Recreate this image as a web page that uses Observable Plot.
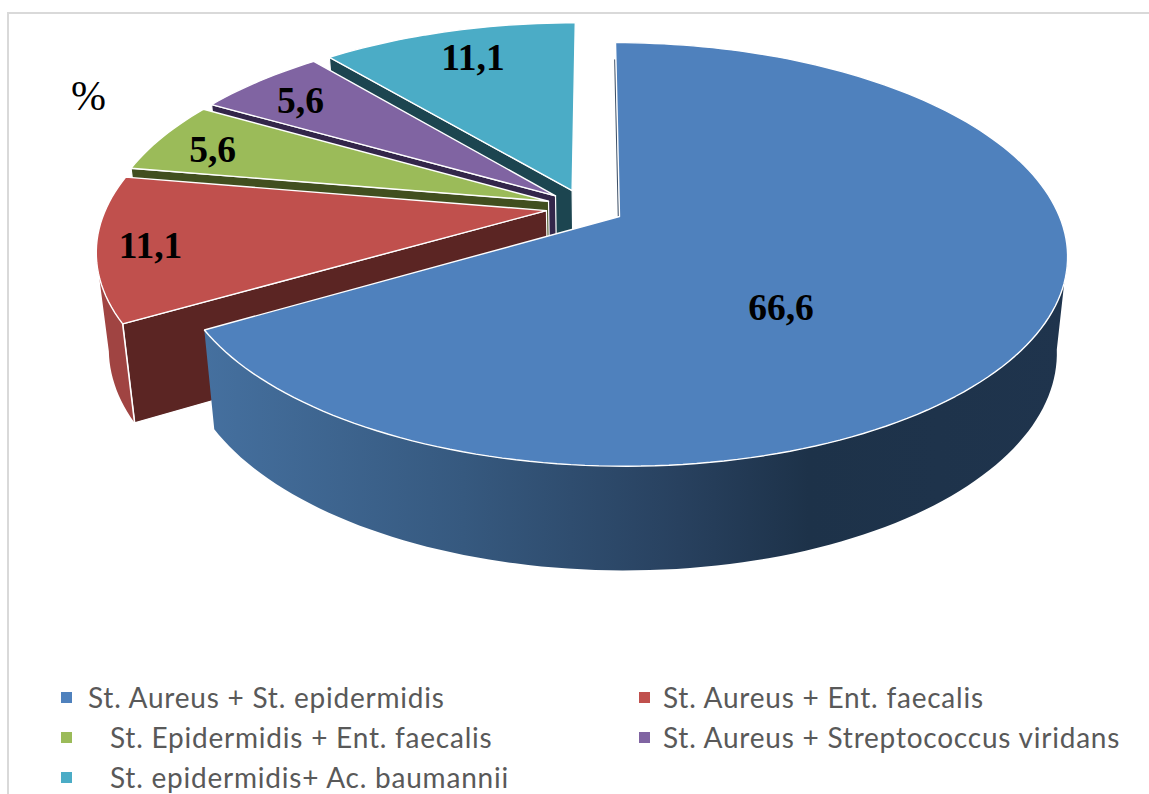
<!DOCTYPE html>
<html>
<head>
<meta charset="utf-8">
<script src="https://cdn.jsdelivr.net/npm/d3@7"></script>
<script src="https://cdn.jsdelivr.net/npm/@observablehq/plot@0.6"></script>
<style>
  html, body { margin: 0; background: #fff; }
  #page { position: relative; width: 1149px; height: 794px; overflow: hidden; }
  #page svg { display: block; position: absolute; left: 0; top: 0; }
  #edge { position: absolute; left: 7px; top: 12px; right: -4px; bottom: -4px;
          border-left: 2px solid #d9d9d9; border-top: 2px solid #d9d9d9; pointer-events: none; }
  .key { position: absolute; font: 28px Lato, sans-serif; letter-spacing: 0.78px; color: #595959;
         line-height: 28px; white-space: nowrap; }
  .key i { position: absolute; top: 9px; width: 11px; height: 11px; }
</style>
</head>
<body>
<div id="page"><div id="edge"></div></div>
<script>
const categories = [
  "St. Aureus + St. epidermidis",
  "St. Aureus + Ent. faecalis",
  "St. Epidermidis + Ent. faecalis",
  "St. Aureus + Streptococcus viridans",
  "St. epidermidis+ Ac. baumannii"
];
const values = [66.6, 11.1, 5.6, 5.6, 11.1];
const topColors = ["#4f81bd", "#c0504d", "#9bbb59", "#8064a2", "#4bacc6"];
const wallColors = ["#1f344d", "#5b2523", "#414f1f", "#33264a", "#1c4550"];
const rimColors = ["url(#rimShade)", "#a04442", null, null, null];
const labelRadius = [0.533, 1.05, 1.036, 1.018, 0.973];
const labelBearing = [141, 262.2, 289.3, 308.2, 337.2];

const width = 1149, height = 672;
const explode = 0.09;
const rad = (d) => d * Math.PI / 180;

// Tilted disc seen in perspective: world (u, v) with v toward the viewer.
const camera = {cx: 619, cy: 216, a: 440, b: 4.7, d: 205, k: -0.179};
function onTop(u, v) {
  const w = 1 + camera.k * v;
  return [camera.cx + (camera.a * u + camera.b * v) / w, camera.cy + camera.d * v / w];
}
// The underside is the same disc dropped and slightly narrowed.
function below([x, y]) {
  return [camera.cx + 0.976 * (x - camera.cx), camera.cy + 95 + 1.037 * (y - camera.cy)];
}

// Lay the slices clockwise from twelve o'clock.
const total = d3.sum(values);
let running = 0;
const slices = values.map((value, i) => {
  const start = running / total * 360;
  running += value;
  return {i, value, start, end: running / total * 360, mid: (start + value / total * 180)};
});
const first = slices[0];
const centre = (s) => [
  explode * (Math.sin(rad(s.mid)) - Math.sin(rad(first.mid))),
  explode * (-Math.cos(rad(s.mid)) + Math.cos(rad(first.mid)))
];
// The smaller slices read a touch wider than the large one.
const radiusOf = (s) => (s.i === 0 ? 1 : 1.008);
const rimPoint = (s, deg) => {
  const [u, v] = centre(s), r = radiusOf(s);
  return onTop(u + r * Math.sin(rad(deg)), v - r * Math.cos(rad(deg)));
};
const arc = (s, from, to) => {
  const n = Math.max(2, Math.ceil(Math.abs(to - from) / 1.5));
  return d3.range(n + 1).map((j) => rimPoint(s, from + (to - from) * j / n));
};
const apex = (s) => onTop(...centre(s));

const facePolygon = (s) => [apex(s), ...arc(s, s.start, s.end), apex(s)];
const wallPolygon = (s) => {
  const a = apex(s), r = rimPoint(s, s.start);
  return [a, r, below(r), below(a), a];
};
const rimPolygon = (s) => {
  const from = Math.max(s.start, 100), to = Math.min(s.end, 258);
  const upper = arc(s, from, to);
  return [...upper, ...upper.map(below).reverse(), upper[0]];
};

const polygon = (pts, options) => Plot.line(pts, {x: (d) => d[0], y: (d) => d[1], curve: "linear", ...options});

// Paint back to front: the far slices first, the large slice last.
const marks = [
  () => {
    const defs = d3.create("svg:defs");
    const g = defs.append("linearGradient").attr("id", "rimShade").attr("x1", 0).attr("x2", 1).attr("y1", 0).attr("y2", 0);
    [[0, "#45709f"], [0.3, "#36597f"], [0.55, "#28415f"], [0.7, "#1d3249"], [1, "#1f344d"]].forEach(([o, c]) =>
      g.append("stop").attr("offset", o).attr("stop-color", c));
    return defs.node();
  }
];
for (const s of [...slices].reverse()) {
  if (s.i > 0) marks.push(polygon(wallPolygon(s), {fill: wallColors[s.i], stroke: "#fff", strokeWidth: 1.2}));
  if (rimColors[s.i]) marks.push(polygon(rimPolygon(s), {fill: rimColors[s.i], stroke: "none"}));
  if (s.i === 1) marks.push(polygon(wallPolygon(s).slice(1, 3), {stroke: "#fff", strokeWidth: 1.6}));
  if (s.i === 0) {
    const r = rimPoint(s, s.start), a = apex(s);
    marks.push(Plot.line([[r[0] * 0.9 + a[0] * 0.1, r[1] * 0.9 + a[1] * 0.1], a], {
      x: (d) => d[0], y: (d) => d[1], stroke: wallColors[0], strokeWidth: 1.5, dx: -1, strokeOpacity: 0.85
    }));
  }
  marks.push(polygon(facePolygon(s), {fill: topColors[s.i], stroke: "#fff", strokeWidth: 1.4, strokeLinejoin: "miter"}));
}

const labelRows = slices.map((s) => {
  const b = rad(labelBearing[s.i]), r = labelRadius[s.i];
  const [x, y] = onTop(r * Math.sin(b), -r * Math.cos(b));
  return {x, y, text: s.value.toFixed(1).replace(".", ",")};
});
marks.push(Plot.text(labelRows, {
  x: "x", y: "y", text: "text", fontFamily: "'Liberation Serif', serif", fontWeight: "bold", fontSize: 37.5, fill: "#000"
}));
marks.push(Plot.text(["%"], {
  frameAnchor: "top-left", textAnchor: "middle", lineAnchor: "middle", dx: 88, dy: 96, text: (d) => d,
  fontFamily: "'Liberation Serif', serif", fontSize: 42, fill: "#000"
}));

const chart = Plot.plot({
  width, height,
  margin: 0,
  x: {type: "linear", domain: [0, width], range: [0, width], axis: null},
  y: {type: "linear", domain: [0, height], range: [0, height], axis: null},
  marks
});
const page = document.getElementById("page");
page.prepend(chart);

// Two-column key under the chart; the left column's lower rows are indented.
categories.forEach((name, i) => {
  const col = i % 2, row = Math.floor(i / 2);
  const el = document.createElement("div");
  el.className = "key";
  const swatchLeft = col ? 639 : 61;
  const textLeft = col ? 663 : (row ? 110 : 88);
  el.style.left = textLeft + "px";
  el.style.top = (683 + row * 40.2) + "px";
  el.textContent = name;
  const sw = document.createElement("i");
  sw.style.left = (swatchLeft - textLeft) + "px";
  sw.style.background = topColors[i];
  el.append(sw);
  page.append(el);
});
</script>
</body>
</html>
